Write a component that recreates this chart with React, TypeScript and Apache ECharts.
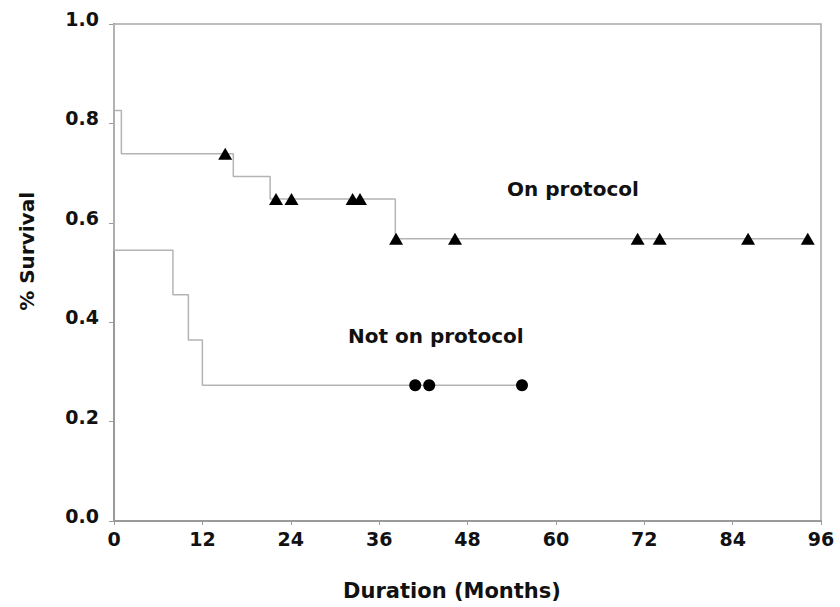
import React, { useEffect, useRef } from "react";
import * as echarts from "echarts";

// Kaplan-Meier step points [month, survival]
const onProtocolTimes = [0, 0, 1.0, 16.2, 21.2, 38.2, 94.2];
const onProtocolSurv = [1.0, 0.826, 0.739, 0.693, 0.648, 0.568, 0.568];
const onProtocolCensorTimes = [15.1, 22.0, 24.1, 32.4, 33.4, 38.3, 46.3, 71.1, 74.1, 86.1, 94.2];
const onProtocolCensorSurv = [0.739, 0.648, 0.648, 0.648, 0.648, 0.568, 0.568, 0.568, 0.568, 0.568, 0.568];

const notOnProtocolTimes = [0, 0, 8.0, 10.1, 12.0, 55.4];
const notOnProtocolSurv = [1.0, 0.545, 0.455, 0.364, 0.273, 0.273];
const notOnProtocolCensorTimes = [40.9, 42.8, 55.4];
const notOnProtocolCensorSurv = [0.273, 0.273, 0.273];

const xTicks = [0, 12, 24, 36, 48, 60, 72, 84, 96];
const yTicks = [0, 0.2, 0.4, 0.6, 0.8, 1.0];

const FONT = "DejaVu Sans";

export default function App() {
  const ref = useRef<HTMLDivElement>(null);
  useEffect(() => {
    if (!ref.current) return;
    const chart = echarts.init(ref.current, undefined, { renderer: "svg" });
    const zip = (xs: number[], ys: number[]) => xs.map((x, i) => [x, ys[i]]);
    chart.setOption({
      animation: false,
      backgroundColor: "#ffffff",
      grid: {
        left: 114,
        right: 19,
        top: 24,
        bottom: 86,
        containLabel: false,
        show: true,
        borderColor: "#a8a8a8",
        borderWidth: 1.5,
        backgroundColor: "transparent",
      },
      xAxis: {
        type: "value",
        min: xTicks[0],
        max: xTicks[xTicks.length - 1],
        interval: 12,
        axisLine: { show: true, onZero: false, lineStyle: { color: "#9a9a9a", width: 2 } },
        axisTick: { show: true, length: 4, lineStyle: { color: "#9a9a9a" } },
        splitLine: { show: false },
        axisLabel: {
          color: "#111",
          fontFamily: FONT,
          fontWeight: "bold",
          fontSize: 19,
          margin: 8,
          showMaxLabel: true,
          showMinLabel: true,
        },
      },
      yAxis: {
        type: "value",
        min: yTicks[0],
        max: yTicks[yTicks.length - 1],
        interval: 0.2,
        axisLine: { show: true, onZero: false, lineStyle: { color: "#9a9a9a", width: 2 } },
        axisTick: { show: true, length: 5, lineStyle: { color: "#9a9a9a" } },
        splitLine: { show: false },
        axisLabel: {
          color: "#111",
          fontFamily: FONT,
          fontWeight: "bold",
          fontSize: 19,
          margin: 15,
          verticalAlign: "bottom",
          lineHeight: 10,
          formatter: (v: number) => v.toFixed(1),
        },
      },
      graphic: [
        {
          type: "text",
          left: 17,
          top: 192,
          rotation: Math.PI / 2,
          style: {
            text: "% Survival",
            fontFamily: FONT,
            fontWeight: "bold",
            fontSize: 20,
            fill: "#111",
          },
        },
        {
          type: "text",
          x: 452,
          y: 591,
          style: {
            text: "Duration (Months)",
            fontFamily: FONT,
            fontWeight: "bold",
            fontSize: 21,
            fill: "#111",
            align: "center",
            verticalAlign: "middle",
          },
        },
        {
          type: "text",
          x: 507,
          y: 189,
          style: {
            text: "On protocol",
            fontFamily: FONT,
            fontWeight: "bold",
            fontSize: 20,
            fill: "#111",
            align: "left",
            verticalAlign: "middle",
          },
        },
        {
          type: "text",
          x: 348,
          y: 336,
          style: {
            text: "Not on protocol",
            fontFamily: FONT,
            fontWeight: "bold",
            fontSize: 20,
            fill: "#111",
            align: "left",
            verticalAlign: "middle",
          },
        },
      ],
      series: [
        {
          name: "On protocol",
          type: "line",
          step: "end",
          data: zip(onProtocolTimes, onProtocolSurv),
          showSymbol: false,
          symbol: "none",
          lineStyle: { color: "#b4b4b4", width: 1.5 },
          z: 2,
        },
        {
          name: "Not on protocol",
          type: "line",
          step: "end",
          data: zip(notOnProtocolTimes, notOnProtocolSurv),
          showSymbol: false,
          symbol: "none",
          lineStyle: { color: "#b4b4b4", width: 1.5 },
          z: 2,
        },
        {
          name: "On protocol censored",
          type: "scatter",
          data: zip(onProtocolCensorTimes, onProtocolCensorSurv),
          symbol: "triangle",
          symbolSize: [14, 12],
          itemStyle: { color: "#000", opacity: 1 },
          z: 3,
        },
        {
          name: "Not on protocol censored",
          type: "scatter",
          data: zip(notOnProtocolCensorTimes, notOnProtocolCensorSurv),
          symbol: "circle",
          symbolSize: 12,
          itemStyle: { color: "#000", opacity: 1 },
          z: 3,
        },
      ],
    });
    return () => chart.dispose();
  }, []);
  return (
    <div style={{ position: "fixed", left: 0, top: 0, width: 840, height: 607, background: "#fff" }}>
      <div ref={ref} style={{ width: 840, height: 607 }} />
    </div>
  );
}
